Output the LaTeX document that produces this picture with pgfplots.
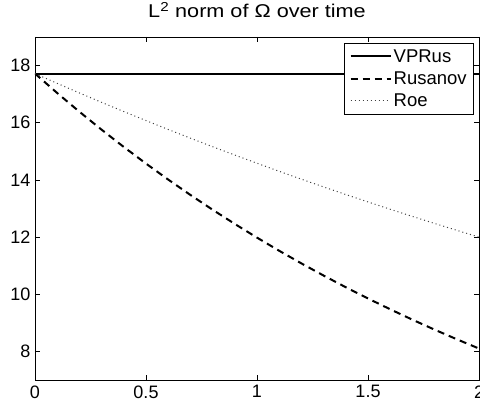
\documentclass[border=0pt]{standalone}
\usepackage{fontspec}
\setmainfont{Liberation Sans}
\newfontfamily\titlefont[FakeStretch=1.17]{Liberation Sans}
\usepackage{pgfplots}
\pgfplotsset{compat=1.18}

\begin{document}
\begin{tikzpicture}
\begin{axis}[
  scale only axis,
  width=444pt, height=343pt,
  xmin=0, xmax=2, ymin=7, ymax=19,
  xtick={0,0.5,1,1.5,2},
  ytick={8,10,12,14,16,18},
  tick align=inside,
  tick pos=both,
  major tick length=5pt,
  axis line style={line width=0.8pt},
  every tick/.style={black, line width=0.6pt},
  /pgf/number format/assume math mode=true,
  tick label style={font=\fontsize{18}{21}\selectfont},
  xticklabel style={yshift=-2pt},
  yticklabel style={xshift=-1pt},
  legend style={at={(1,1)}, anchor=north east, xshift=-5pt, yshift=-6pt,
    draw=black, line width=0.6pt, font=\fontsize{18.5}{21}\selectfont,
    inner xsep=5pt, inner ysep=4pt, row sep=4pt, cells={anchor=west}},
  legend image code/.code={\draw[#1] (0pt,0pt) -- (40pt,0pt);},
]
\addplot[black, line width=2pt] coordinates {(0,17.72) (2,17.72)};
\addlegendentry{VPRus}
\addplot[black, line width=2pt, dash pattern=on 7pt off 5pt] coordinates {
(0,17.720) (0.1,17.040) (0.2,16.386) (0.3,15.757) (0.4,15.152) (0.5,14.571)
(0.6,14.012) (0.7,13.474) (0.8,12.957) (0.9,12.460) (1.0,11.981) (1.1,11.521)
(1.2,11.079) (1.3,10.654) (1.4,10.245) (1.5,9.852) (1.6,9.474) (1.7,9.110)
(1.8,8.761) (1.9,8.425) (2.0,8.101)};
\addlegendentry{Rusanov}
\addplot[black!75, line width=1pt, dash pattern=on 1pt off 3pt] coordinates {
(0,17.720) (0.1,17.378) (0.2,17.043) (0.3,16.714) (0.4,16.391) (0.5,16.075)
(0.6,15.765) (0.7,15.461) (0.8,15.162) (0.9,14.870) (1.0,14.583) (1.1,14.301)
(1.2,14.025) (1.3,13.755) (1.4,13.489) (1.5,13.229) (1.6,12.973) (1.7,12.723)
(1.8,12.477) (1.9,12.236) (2.0,12.000)};
\addlegendentry{Roe}
\end{axis}
\node[anchor=base, font=\titlefont\fontsize{18.5}{21}\selectfont]
  at ([yshift=19pt]current axis.north) {L\textsuperscript{2} norm of Ω over time};
\pgfresetboundingbox
\path[use as bounding box] ([xshift=-35pt,yshift=-29pt]current axis.south west)
  rectangle ([xshift=1pt,yshift=37pt]current axis.north east);
\end{tikzpicture}
\end{document}
